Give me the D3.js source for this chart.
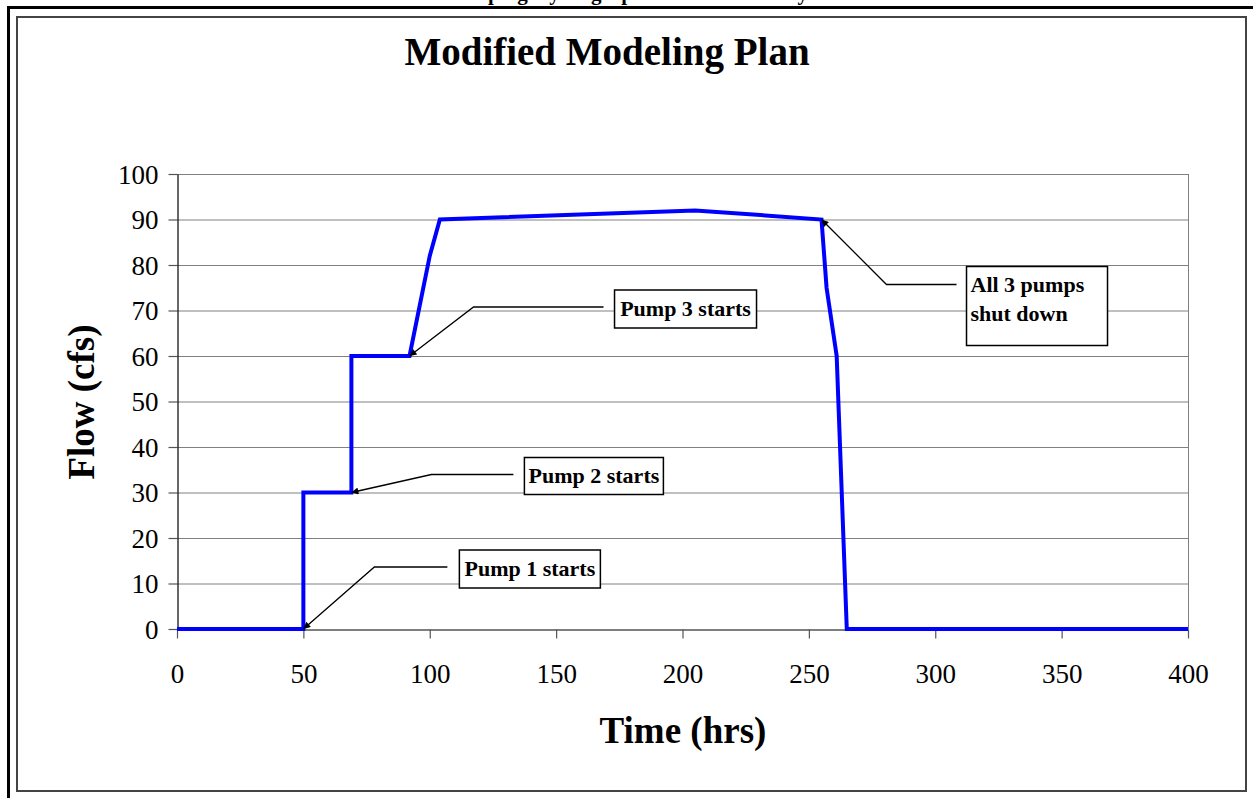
<!DOCTYPE html>
<html>
<head>
<meta charset="utf-8">
<script src="https://cdn.jsdelivr.net/npm/d3@7"></script>
<style>
  html, body { margin: 0; padding: 0; background: #fff; }
  svg { display: block; }
</style>
</head>
<body>
<svg id="chart" width="1253" height="798"></svg>
<script>
// Pumping hydrograph: time (hrs) vs. flow (cfs)
const timeHrs = [0, 50, 50, 69, 69, 92, 100, 104, 205, 255, 257, 261, 265, 400];
const flowCfs = [0, 0, 30, 30, 60, 60, 82, 90, 92, 90, 75, 60, 0, 0];

const xTicks = [0, 50, 100, 150, 200, 250, 300, 350, 400];
const yTicks = [0, 10, 20, 30, 40, 50, 60, 70, 80, 90, 100];

// Callouts: label lines and the point (time, flow) each arrow points at
const noteLabels = [["Pump 1 starts"], ["Pump 2 starts"], ["Pump 3 starts"], ["All 3 pumps", "shut down"]];
const noteTime = [50, 69, 92, 255];
const noteFlow = [0, 30, 60, 90];

const svg = d3.select("#chart");
const serif = "'Liberation Serif', 'Times New Roman', serif";

// page frame (heading of the page runs above the top edge)
svg.append("text")
  .attr("x", 446).attr("y", 0)
  .attr("font-family", serif).attr("font-weight", "bold").attr("font-size", 21)
  .text("Pumping Hydrograph Used in the Study");
svg.append("path")
  .attr("d", "M8.5,798 V7.5 H1253")
  .attr("fill", "none").attr("stroke", "#000").attr("stroke-width", 3);
svg.append("rect")
  .attr("x", 17).attr("y", 17).attr("width", 1229).attr("height", 774)
  .attr("fill", "#fff").attr("stroke", "#444").attr("stroke-width", 2);

// plot geometry
const plot = { left: 177, right: 1188, top: 174, bottom: 629 };
const x = d3.scaleLinear().domain([0, 400]).range([plot.left, plot.right]);
const y = d3.scaleLinear().domain([0, 100]).range([plot.bottom, plot.top]);

// gridlines
svg.append("g").selectAll("line").data(yTicks.filter(d => d > 0)).join("line")
  .attr("x1", plot.left).attr("x2", plot.right)
  .attr("y1", d => y(d) + 0.5).attr("y2", d => y(d) + 0.5)
  .attr("stroke", "#808080").attr("stroke-width", 1);
svg.append("line")
  .attr("x1", plot.right + 0.5).attr("x2", plot.right + 0.5).attr("y1", plot.top).attr("y2", plot.bottom)
  .attr("stroke", "#808080").attr("stroke-width", 1);

// axes
const xAxis = svg.append("g")
  .attr("transform", `translate(0,${plot.bottom + 0.5})`)
  .call(d3.axisBottom(x).tickValues(xTicks).tickSize(9).tickSizeOuter(0).tickPadding(25).tickFormat(d3.format("d")));
const yAxis = svg.append("g")
  .attr("transform", `translate(${plot.left + 0.5},0)`)
  .call(d3.axisLeft(y).tickValues(yTicks).tickSize(9).tickSizeOuter(0).tickPadding(10).tickFormat(d3.format("d")));
[xAxis, yAxis].forEach(g => {
  g.select(".domain").attr("stroke", "#000").attr("stroke-width", 1.2);
  g.selectAll(".tick line").attr("stroke", "#555").attr("stroke-width", 1.2);
  g.selectAll(".tick text")
    .attr("font-family", serif).attr("font-size", 27).attr("fill", "#000");
});
yAxis.selectAll(".tick text").attr("dy", "0.34em");
xAxis.selectAll(".tick text").attr("dy", "0.71em");

// flow line
const pts = timeHrs.map((t, i) => [t, flowCfs[i]]);
svg.append("path")
  .datum(pts)
  .attr("fill", "none")
  .attr("stroke", "#0000ff")
  .attr("stroke-width", 4)
  .attr("stroke-linejoin", "miter")
  .attr("d", d3.line().x(d => x(d[0])).y(d => y(d[1])));

// titles
svg.append("text")
  .attr("x", 607).attr("y", 65).attr("text-anchor", "middle")
  .attr("font-family", serif).attr("font-weight", "bold").attr("font-size", 39)
  .text("Modified Modeling Plan");
svg.append("text")
  .attr("x", 683).attr("y", 743).attr("text-anchor", "middle")
  .attr("font-family", serif).attr("font-weight", "bold").attr("font-size", 37)
  .text("Time (hrs)");
svg.append("text")
  .attr("transform", "translate(94,402) rotate(-90)").attr("text-anchor", "middle")
  .attr("font-family", serif).attr("font-weight", "bold").attr("font-size", 37)
  .text("Flow (cfs)");

// callouts
svg.append("defs").append("marker")
  .attr("id", "arrow").attr("viewBox", "0 0 10 10")
  .attr("refX", 10).attr("refY", 5)
  .attr("markerWidth", 9).attr("markerHeight", 7)
  .attr("markerUnits", "userSpaceOnUse")
  .attr("orient", "auto")
  .append("path").attr("d", "M0,0 L10,5 L0,10 Z").attr("fill", "#000");

// leader elbow / box placement relative to the target point (pixels)
const leaderLayout = [
  { dx: 71, dy: -62, run: 73, bx: 156, by: -79, bw: 141, bh: 38 },
  { dx: 80, dy: -18, run: 82, bx: 173, by: -35, bw: 139, bh: 37 },
  { dx: 64, dy: -49, run: 130, bx: 205, by: -66, bw: 142, bh: 38 },
  { dx: 65, dy: 65, run: 70, bx: 145, by: 47, bw: 141, bh: 79 }
];

noteLabels.forEach((lines, i) => {
  const tx = x(noteTime[i]), ty = y(noteFlow[i]);
  const L = leaderLayout[i];
  const g = svg.append("g");
  g.append("path")
    .attr("d", `M${tx + L.dx + L.run},${ty + L.dy} H${tx + L.dx} L${tx},${ty}`)
    .attr("fill", "none").attr("stroke", "#000").attr("stroke-width", 1.3)
    .attr("marker-end", "url(#arrow)");
  g.append("rect")
    .attr("x", tx + L.bx).attr("y", ty + L.by).attr("width", L.bw).attr("height", L.bh)
    .attr("fill", "#fff").attr("stroke", "#000").attr("stroke-width", 1.5);
  const multi = lines.length > 1;
  lines.forEach((s, k) => {
    g.append("text")
      .attr("x", multi ? tx + L.bx + 4 : tx + L.bx + L.bw / 2)
      .attr("y", multi ? ty + L.by + 25 + k * 29 : ty + L.by + L.bh / 2 + 7)
      .attr("text-anchor", multi ? "start" : "middle")
      .attr("font-family", serif).attr("font-weight", "bold").attr("font-size", 22)
      .text(s);
  });
});
</script>
</body>
</html>
